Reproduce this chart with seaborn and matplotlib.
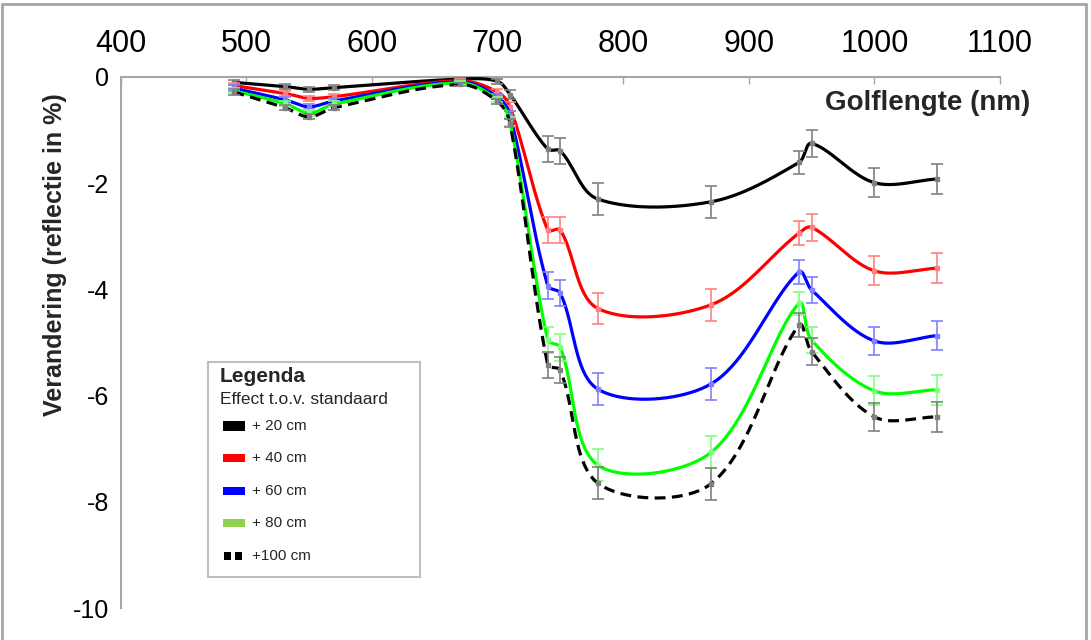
import numpy as np
import pandas as pd
import matplotlib
matplotlib.use("Agg")
import matplotlib.pyplot as plt
import seaborn as sns
from matplotlib.patches import Rectangle
from matplotlib.lines import Line2D

# Measured reflectance change (%) per wavelength band, per water-level rise
wavelengths = [490, 531, 550, 570, 670, 700, 710, 740, 750, 780, 870, 940, 950, 1000, 1050]
plus_20 = [-0.10, -0.18, -0.23, -0.20, -0.04, -0.08, -0.33, -1.36, -1.39, -2.30, -2.35, -1.61, -1.25, -1.99, -1.92]
plus_40 = [-0.16, -0.31, -0.40, -0.37, -0.07, -0.28, -0.56, -2.88, -2.88, -4.36, -4.29, -2.94, -2.83, -3.65, -3.60]
plus_60 = [-0.21, -0.43, -0.56, -0.45, -0.09, -0.37, -0.72, -3.93, -4.07, -5.88, -5.78, -3.67, -4.01, -4.97, -4.87]
plus_80 = [-0.26, -0.50, -0.68, -0.51, -0.11, -0.43, -0.84, -4.95, -5.09, -7.31, -7.07, -4.26, -4.95, -5.91, -5.89]
plus_100 = [-0.28, -0.58, -0.75, -0.58, -0.14, -0.46, -0.87, -5.42, -5.52, -7.65, -7.66, -4.67, -5.17, -6.40, -6.40]
spread = [0.05, 0.05, 0.05, 0.05, 0.03, 0.05, 0.08, 0.25, 0.25, 0.30, 0.30, 0.22, 0.25, 0.27, 0.28]

series_labels = ["+ 20 cm", "+ 40 cm", "+ 60 cm", "+ 80 cm", "+100 cm"]
series_values = [plus_20, plus_40, plus_60, plus_80, plus_100]
line_colors = ["#000000", "#FF0000", "#0000FF", "#00FF00", "#000000"]
bar_colors = ["#808080", "#FF8080", "#8080FF", "#80FF80", "#808080"]
key_colors = ["#000000", "#FF0000", "#0000FF", "#92D050", "#000000"]
y_ticks = [0, -2, -4, -6, -8, -10]
x_ticks = [400, 500, 600, 700, 800, 900, 1000, 1100]

W, H = 1091, 640
PX_PER_NM = (1000 - 120.5) / 700.0
PX_PER_UNIT = (608 - 77) / 10.0
AXIS_GREY = "#A6A6A6"

sns.set_theme(style="white")
plt.rcParams["font.family"] = ["Liberation Sans", "DejaVu Sans"]
plt.rcParams["axes.unicode_minus"] = False

fig = plt.figure(figsize=(W / 100, H / 100), dpi=100)
ax = fig.add_axes([120.5 / W, 1 - 608 / H, (1000 - 120.5) / W, (608 - 77) / H])


def smoothed(xs, ys, n=40):
    """Smoothed line through every point: cubic Bezier segments whose control
    arms are scaled to the segment length, so short steps stay flat."""
    P = np.column_stack([np.asarray(xs, float) * PX_PER_NM, np.asarray(ys, float) * PX_PER_UNIT])
    ext = np.vstack([P[0], P, P[-1]])
    parts = []
    for i in range(len(P) - 1):
        p0, p1, p2, p3 = ext[i], ext[i + 1], ext[i + 2], ext[i + 3]
        d01 = np.hypot(*(p1 - p0))
        d12 = np.hypot(*(p2 - p1))
        d23 = np.hypot(*(p3 - p2))
        c1 = p1 + (p2 - p0) * d12 / (3.0 * (d01 + d12)) if d01 + d12 > 0 else p1
        c2 = p2 - (p3 - p1) * d12 / (3.0 * (d12 + d23)) if d12 + d23 > 0 else p2
        t = np.linspace(0, 1, n, endpoint=(i == len(P) - 2))[:, None]
        parts.append((1 - t) ** 3 * p1 + 3 * (1 - t) ** 2 * t * c1 + 3 * (1 - t) * t ** 2 * c2 + t ** 3 * p2)
    out = np.vstack(parts)
    return out[:, 0] / PX_PER_NM, out[:, 1] / PX_PER_UNIT


for k, (label, vals) in enumerate(zip(series_labels, series_values)):
    sx, sy = smoothed(wavelengths, vals)
    curve = pd.DataFrame({"golflengte": sx, "verandering": sy})
    sns.lineplot(data=curve, x="golflengte", y="verandering", sort=False, estimator=None,
                 color=line_colors[k], lw=2.3, ax=ax, zorder=3 + k)
    if label.startswith("+100"):
        ax.lines[-1].set_dashes((3.4, 2.0))
    ax.errorbar(wavelengths, vals, yerr=spread, fmt="s", ms=3, color=bar_colors[k],
                ecolor=bar_colors[k], elinewidth=1.2, capsize=4, capthick=1.2, zorder=3 + k)

ax.set_xlim(400, 1100)
ax.set_ylim(-10, 0)
ax.set_xticks(x_ticks)
ax.set_yticks(y_ticks)
ax.set_yticklabels([str(v) for v in y_ticks])
ax.set_xlabel("")
ax.set_ylabel("")
ax.xaxis.tick_top()
for side in ("bottom", "right"):
    ax.spines[side].set_visible(False)
for side in ("top", "left"):
    ax.spines[side].set_color(AXIS_GREY)
    ax.spines[side].set_linewidth(1.5)
ax.tick_params(axis="x", direction="in", length=5, width=1, color=AXIS_GREY, pad=13,
               labelsize=22, labelcolor="black")
ax.tick_params(axis="y", direction="out", length=5, width=1, color=AXIS_GREY, pad=3,
               labelsize=18, labelcolor="black")

fig.text(1030 / W, 1 - 103 / H, "Golflengte (nm)", ha="right", va="center",
         fontsize=20, fontweight="bold")
fig.text(55 / W, 1 - 255 / H, "Verandering (reflectie in %)", ha="center", va="center",
         rotation=90, fontsize=18, fontweight="bold")


def fx(px):
    return px / W


def fy(py):
    return 1 - py / H


# Legend box
fig.add_artist(Rectangle((fx(208), fy(577)), fx(420) - fx(208), fy(362) - fy(577),
                         transform=fig.transFigure, facecolor="white",
                         edgecolor="#BFBFBF", lw=1.5, zorder=10))
fig.text(fx(220), fy(377), "Legenda", fontsize=15, fontweight="bold", va="center", zorder=11)
fig.text(fx(220), fy(399), "Effect t.o.v. standaard", fontsize=12.5, va="center", zorder=11)
key_rows = [426, 458, 491, 523, 556]
for k, (label, row) in enumerate(zip(series_labels, key_rows)):
    if label.startswith("+100"):
        for x0 in (224, 235):
            fig.add_artist(Rectangle((fx(x0), fy(row + 4)), fx(7), 8 / H, transform=fig.transFigure,
                                     facecolor="black", edgecolor="none", zorder=11))
    else:
        h = 10 if k == 0 else 8
        fig.add_artist(Rectangle((fx(223), fy(row + h / 2)), fx(22), h / H, transform=fig.transFigure,
                                 facecolor=key_colors[k], edgecolor="none", zorder=11))
    fig.text(fx(252), fy(row), label, fontsize=11, va="center", zorder=11)

# Outer frame
for (x0, y0, x1, y1) in [(2, 4, 1086, 4), (2, 4, 2, 640), (1086, 4, 1086, 640)]:
    fig.add_artist(Line2D([fx(x0), fx(x1)], [fy(y0), fy(y1)], transform=fig.transFigure,
                          color="#A6A6A6", lw=2))

fig.savefig("out.png", dpi=100)
